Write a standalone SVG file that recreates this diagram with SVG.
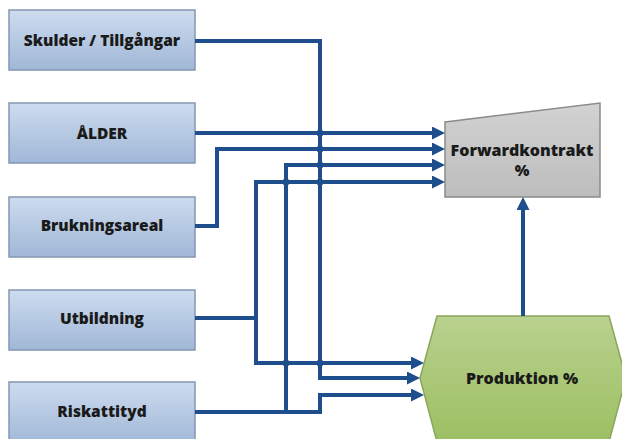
<svg xmlns="http://www.w3.org/2000/svg" width="622" height="439" viewBox="0 0 622 439">
<defs>
<linearGradient id="gBox" x1="0" y1="0" x2="0" y2="1">
<stop offset="0" stop-color="#cddcef"/>
<stop offset="1" stop-color="#a0b7d7"/>
</linearGradient>
<linearGradient id="gGreen" x1="0" y1="0" x2="0" y2="1">
<stop offset="0" stop-color="#b9d18e"/>
<stop offset="1" stop-color="#9dbf63"/>
</linearGradient>
<linearGradient id="gGray" x1="0" y1="0" x2="0" y2="1">
<stop offset="0" stop-color="#d2d2d2"/>
<stop offset="1" stop-color="#bdbdbd"/>
</linearGradient>
<marker id="arr" markerUnits="userSpaceOnUse" markerWidth="13" markerHeight="13" viewBox="0 0 13 13" refX="9" refY="6.5" orient="auto">
<path d="M0,0 L13,6.5 L0,13 z" fill="#1f4e8c"/>
</marker>
<style>
.box{fill:url(#gBox);stroke:#8596b0;stroke-width:1.5}
.lbl{font-family:"Open Sans",Lato,"DejaVu Sans",sans-serif;font-weight:800;font-size:15.5px;fill:#1a1a1a;text-anchor:middle}
.ln{fill:none;stroke:#1f4e8c;stroke-width:4;stroke-linejoin:miter}
.ar{marker-end:url(#arr)}
.dot{fill:#1f4e8c}
</style>
</defs>
<g id="skulder"><rect class="box" x="9" y="10" width="186" height="60"/><text class="lbl" x="102" y="46">Skulder / Tillgångar</text></g>
<g id="alder"><rect class="box" x="9" y="103" width="186" height="60"/><text class="lbl" x="102" y="139">ÅLDER</text></g>
<g id="brukningsareal"><rect class="box" x="9" y="197" width="186" height="60"/><text class="lbl" x="102" y="231">Brukningsareal</text></g>
<g id="utbildning"><rect class="box" x="9" y="290" width="186" height="60"/><text class="lbl" x="102" y="324">Utbildning</text></g>
<g id="riskattityd"><rect class="box" x="9" y="382" width="186" height="62"/><text class="lbl" x="102" y="417">Riskattityd</text></g>
<g id="forwardkontrakt"><polygon points="445,122 600,103 600,197 445,197" fill="url(#gGray)" stroke="#8a8a8a" stroke-width="1.5"/><text class="lbl" x="522" y="156" style="font-size:16px">Forwardkontrakt</text><text class="lbl" x="522" y="176">%</text></g>
<g id="produktion"><polygon points="437,316 609,316 626,378 609,442 437,442 420,378" fill="url(#gGreen)" stroke="#8aa65a" stroke-width="1.5"/><text class="lbl" x="522" y="384" style="font-size:16px">Produktion %</text></g>
<g id="connectors">
<path class="ln ar" d="M195,41 H320 V378 H416"/>
<path class="ln ar" d="M195,133 H441"/>
<path class="ln ar" d="M195,226 H217 V149 H441"/>
<path class="ln ar" d="M195,318 H256 V182 H441"/>
<path class="ln ar" d="M256,318 V363 H420"/>
<path class="ln ar" d="M195,412 H320 V395 H420"/>
<path class="ln ar" d="M286,412 V165 H441"/>
<path class="ln ar" d="M523,316 V201"/>
<circle class="dot" cx="320" cy="133" r="3.5"/>
<circle class="dot" cx="320" cy="149" r="3.5"/>
<circle class="dot" cx="320" cy="165" r="3.5"/>
<circle class="dot" cx="320" cy="182" r="3.5"/>
<circle class="dot" cx="286" cy="182" r="3.5"/>
<circle class="dot" cx="286" cy="363" r="3.5"/>
<circle class="dot" cx="320" cy="363" r="3.5"/>
</g>
</svg>
